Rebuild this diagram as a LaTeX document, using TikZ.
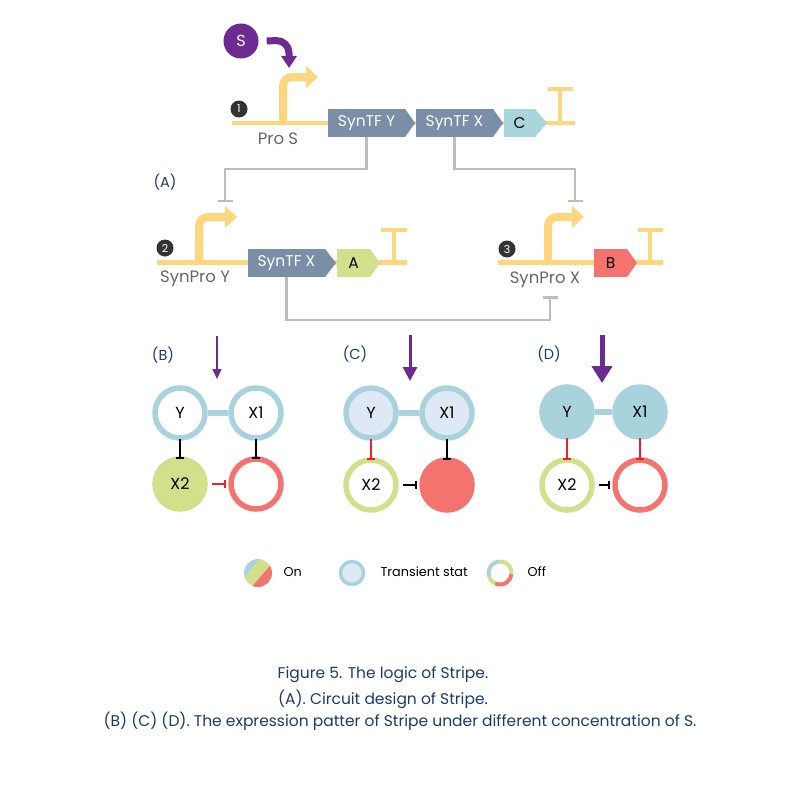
\documentclass[tikz,border=0pt]{standalone}
\usepackage{fontspec}
\setmainfont{Poppins}
\usetikzlibrary{arrows.meta}
\definecolor{dna}{HTML}{FDD67E}
\definecolor{tfc}{HTML}{7B8EA8}
\definecolor{cc}{HTML}{A9D5DD}
\definecolor{ac}{HTML}{D3E08B}
\definecolor{bc}{HTML}{F4736E}
\definecolor{gl}{HTML}{BDBDBD}
\definecolor{pur}{HTML}{6C2B90}
\definecolor{nblue}{HTML}{A9D3DC}
\definecolor{tfill}{HTML}{DFE9F5}
\definecolor{ngreen}{HTML}{D2DF8B}
\definecolor{nred}{HTML}{F4736E}
\definecolor{inred}{HTML}{E8222A}
\definecolor{navy}{HTML}{1C3B6C}
\definecolor{gtext}{HTML}{666666}
\definecolor{numc}{HTML}{333333}
\begin{document}
\begin{tikzpicture}[x=1pt,y=-1pt,
  gene/.style={rectangle, minimum height=28pt, inner sep=0pt, outer sep=0pt, font=\fontsize{15.5}{17}\selectfont},
  dnaline/.style={dna, line width=4.5pt},
  prom/.style={dna, line width=8pt, rounded corners=9pt, -{Triangle[width=21pt,length=12pt]}},
  termline/.style={dna, line width=3.5pt},
  numcirc/.style={circle, fill=numc, text=white, minimum size=17pt, inner sep=0pt, font=\fontsize{11}{12}\selectfont},
  plab/.style={text=gtext, font=\fontsize{16.5}{18}\selectfont},
  grep/.style={gl, line width=2.5pt, -{Bar[width=15pt]}},
  paneltxt/.style={text=navy, font=\fontsize{14.5}{16}\selectfont},
  cir/.style={circle, minimum size=50pt, line width=5.5pt, inner sep=0pt, font=\fontsize{16}{18}\selectfont},
  linkline/.style={nblue, line width=6pt},
  inhk/.style={line width=2pt, -{Bar[width=8pt]}},
  inhr/.style={inred, line width=2pt, -{Bar[width=8pt]}},
  legtxt/.style={font=\fontsize{12.8}{14}\selectfont, anchor=west},
  captxt/.style={text=navy, font=\fontsize{15.5}{18}\selectfont}
]
\useasboundingbox[fill=white] (0,0) rectangle (800,784);

% ---------- Row 1 ----------
\draw[dnaline] (232,123) -- (575,123);
\draw[termline] (560,123) -- (560,89);
\draw[termline] (548,89) -- (573,89);
\node[gene, fill=tfc, text=white, minimum width=77pt] (SY) at (366.5,123) {SynTF Y};
\fill[tfc] (SY.north east) -- ([xshift=10pt]SY.east) -- (SY.south east) -- cycle;
\node[gene, fill=tfc, text=white, minimum width=77pt] (SX1) at (454.5,123) {SynTF X};
\fill[tfc] (SX1.north east) -- ([xshift=10pt]SX1.east) -- (SX1.south east) -- cycle;
\node[gene, fill=cc, text=black, minimum width=31pt] (C) at (519.5,123) {C};
\fill[cc] (C.north east) -- ([xshift=12pt]C.east) -- (C.south east) -- cycle;
\coordinate (p1) at (283,123);
\draw[prom] (p1) -- (283,77) -- (318,77);
\node[numcirc] (n1) at (239,109) {1};
\node[plab] (proS) at (278,139) {Pro S};
\node[circle, fill=pur, text=white, minimum size=35pt, inner sep=0pt, font=\fontsize{16}{18}\selectfont] (S) at (241,41) {S};
\coordinate (stip) at (289,68);
\draw[pur, line width=7pt, rounded corners=13pt, -{Triangle[width=15pt,length=12pt]}] ([xshift=8pt]S.east) -- (289,40) -- (stip);

% ---------- Row 2 left ----------
\draw[dnaline] (157,262.5) -- (407,262.5);
\draw[termline] (394,262.5) -- (394,230);
\draw[termline] (381,230) -- (407,230);
\node[gene, fill=tfc, text=white, minimum width=77pt] (SX2) at (286.5,263) {SynTF X};
\fill[tfc] (SX2.north east) -- ([xshift=11pt]SX2.east) -- (SX2.south east) -- cycle;
\node[gene, fill=ac, text=black, minimum width=33pt] (A) at (353.5,263) {A};
\fill[ac] (A.north east) -- ([xshift=10pt]A.east) -- (A.south east) -- cycle;
\coordinate (p2) at (199,262.5);
\draw[prom] (p2) -- (199,217) -- (237,217);
\node[numcirc] (n2) at (165,248) {2};
\node[plab] (synY) at (195,279) {SynPro Y};

% ---------- Row 2 right ----------
\draw[dnaline] (498,262.5) -- (663,262.5);
\draw[termline] (650,262.5) -- (650,230);
\draw[termline] (638,230) -- (663,230);
\node[gene, fill=bc, text=black, minimum width=33pt] (B) at (610.5,263) {B};
\fill[bc] (B.north east) -- ([xshift=10pt]B.east) -- (B.south east) -- cycle;
\coordinate (p3) at (548,262.5);
\draw[prom] (p3) -- (548,217) -- (584,217);
\node[numcirc] (n3) at (507,249) {3};
\node[plab] (synX) at (545,280) {SynPro X};

% ---------- Repression connectors ----------
\coordinate (r2) at (225,202);
\coordinate (r3) at (575,202);
\coordinate (r3b) at (550,296);
\draw[grep] (SY.south) -- (SY.south |- 0,169) -| (r2);
\draw[grep] (SX1.south) -- (SX1.south |- 0,169) -| (r3);
\draw[grep] (SX2.south) -- (SX2.south |- 0,320) -| (r3b);
\node[paneltxt] (lA) at (165,182) {(A)};

% ---------- Panel B ----------
\node[paneltxt] (lB) at (163,355) {(B)};
\coordinate (aB1) at (217,336);
\coordinate (aB2) at (217,379);
\draw[pur, line width=1.6pt, -{Triangle[width=9pt,length=10pt]}] (aB1) -- (aB2);
\node[cir, draw=nblue, fill=white] (BY) at (180,413) {Y};
\node[cir, draw=nblue, fill=white] (BX1) at (256,413) {X1};
\node[cir, draw=ngreen, fill=ngreen] (BX2) at (180,484) {X2};
\node[cir, draw=nred, fill=white] (BR) at (256,484) {};
\draw[linkline] (BY.east) -- (BX1.west);
\draw[inhk] ([yshift=2pt]BY.south) -- ([yshift=-3pt]BX2.north);
\draw[inhk] ([yshift=2pt]BX1.south) -- ([yshift=-3pt]BR.north);
\draw[inhr] ([xshift=4pt]BX2.east) -- ([xshift=-2pt]BR.west);

% ---------- Panel C ----------
\node[paneltxt] (lC) at (355,354) {(C)};
\coordinate (aC1) at (410,335);
\coordinate (aC2) at (410,381);
\draw[pur, line width=3pt, -{Triangle[width=14pt,length=14pt]}] (aC1) -- (aC2);
\node[cir, draw=nblue, fill=tfill] (CY) at (371,413) {Y};
\node[cir, draw=nblue, fill=tfill] (CX1) at (447,413) {X1};
\node[cir, draw=ngreen, fill=white] (CX2) at (371,485) {X2};
\node[cir, draw=nred, fill=nred] (CR) at (447,485) {};
\draw[linkline] (CY.east) -- (CX1.west);
\draw[inhr] ([yshift=2pt]CY.south) -- ([yshift=-3pt]CX2.north);
\draw[inhk] ([yshift=2pt]CX1.south) -- ([yshift=-3pt]CR.north);
\draw[inhk] ([xshift=4pt]CX2.east) -- ([xshift=-2pt]CR.west);

% ---------- Panel D ----------
\node[paneltxt] (lD) at (549,354) {(D)};
\coordinate (aD1) at (602,335);
\coordinate (aD2) at (602,383);
\draw[pur, line width=5pt, -{Triangle[width=20pt,length=17pt]}] (aD1) -- (aD2);
\node[cir, draw=nblue, fill=nblue] (DY) at (567,412) {Y};
\node[cir, draw=nblue, fill=nblue] (DX1) at (640,412) {X1};
\node[cir, draw=ngreen, fill=white] (DX2) at (567,485) {X2};
\node[cir, draw=nred, fill=white] (DR) at (640,485) {};
\draw[linkline] (DY.east) -- (DX1.west);
\draw[inhr] ([yshift=2pt]DY.south) -- ([yshift=-3pt]DX2.north);
\draw[inhr] ([yshift=2pt]DX1.south) -- ([yshift=-3pt]DR.north);
\draw[inhk] ([xshift=4pt]DX2.east) -- ([xshift=-2pt]DR.west);

% ---------- Legend ----------
\begin{scope}[shift={(258,573)}]
  \clip (0,0) circle (14pt);
  \fill[nblue] (-30,-20) -- (6.5,-20) -- (-25.9,20) -- (-30,20) -- cycle;
  \fill[ngreen] (6.5,-20) -- (23.1,-20) -- (-11.7,20) -- (-25.9,20) -- cycle;
  \fill[nred] (23.1,-20) -- (30,-20) -- (30,20) -- (-11.7,20) -- cycle;
\end{scope}
\node[legtxt] (lOn) at (280,572) {On};
\node[circle, draw=nblue, fill=tfill, line width=3.5pt, minimum size=23pt, inner sep=0pt] (lT) at (352,573) {};
\node[legtxt] (lTt) at (377,572) {Transient stat};
\begin{scope}[shift={(500,573)}, line width=4pt]
  \draw[nblue] (-95:11.5) arc[start angle=-95, end angle=-200, radius=11.5];
  \draw[ngreen] (-200:11.5) arc[start angle=-200, end angle=-245, radius=11.5];
  \draw[nred] (-245:11.5) arc[start angle=-245, end angle=-355, radius=11.5];
  \draw[ngreen] (-355:11.5) arc[start angle=-355, end angle=-455, radius=11.5];
\end{scope}
\node[legtxt] (lOff) at (524,572) {Off};

% ---------- Caption ----------
\node[captxt] (cap1) at (383,675) {Figure 5. The logic of Stripe.};
\node[captxt] (cap2) at (383,699) {(A). Circuit design of Stripe.};
\node[captxt] (cap3) at (400,721) {(B) (C) (D). The expression patter of Stripe under different concentration of S.};
\end{tikzpicture}
\end{document}
